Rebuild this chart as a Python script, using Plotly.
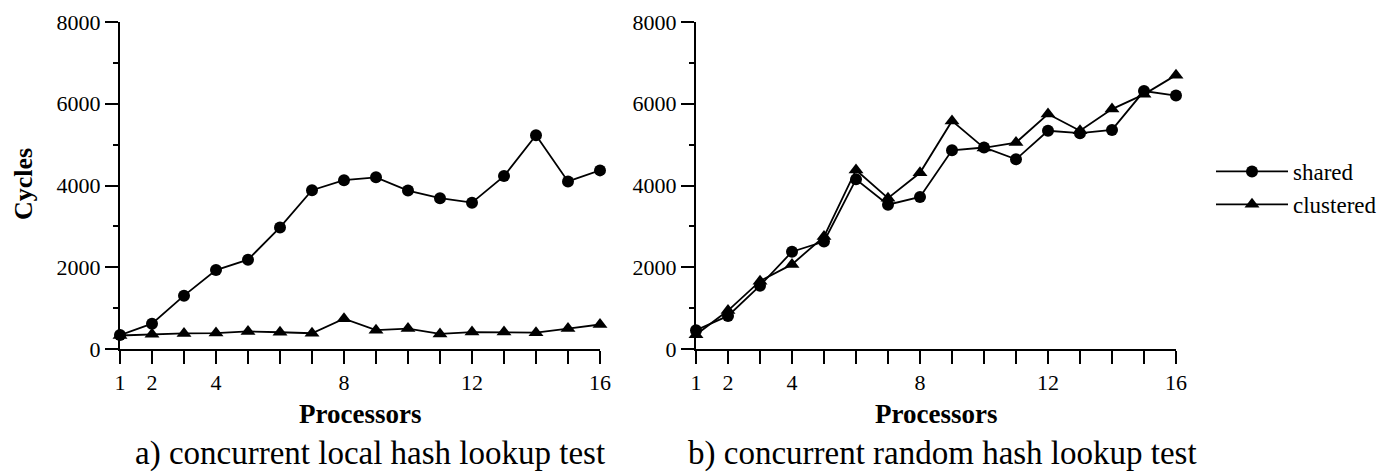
import plotly.graph_objects as go

processors = list(range(1, 17))

local_shared = [340, 620, 1305, 1930, 2185, 2975, 3885, 4130, 4200, 3875, 3690, 3580, 4230, 5230, 4100, 4370]
local_clustered = [330, 360, 380, 390, 430, 410, 385, 740, 460, 500, 370, 415, 415, 400, 500, 600]

random_shared = [460, 810, 1550, 2380, 2630, 4150, 3530, 3720, 4860, 4930, 4640, 5340, 5280, 5360, 6310, 6200]
random_clustered = [350, 940, 1660, 2070, 2750, 4380, 3690, 4310, 5580, 4920, 5050, 5750, 5340, 5870, 6230, 6700]

x_tickvals = list(range(1, 17))
x_ticktext = ["1", "2", "", "4", "", "", "", "8", "", "", "", "12", "", "", "", "16"]
y_tickvals = [0, 2000, 4000, 6000, 8000]

W, H = 1378, 473
FONT = "Liberation Serif"

def px_x(p):
    return p / W

def px_y(p):
    return 1 - p / H

fig = go.Figure()

line_style = dict(color="black", width=1.8)

fig.add_trace(go.Scatter(x=processors, y=local_shared, mode="lines+markers", name="shared",
                         line=line_style, marker=dict(symbol="circle", size=12, color="black"),
                         xaxis="x", yaxis="y", cliponaxis=False, legendgroup="shared"))
fig.add_trace(go.Scatter(x=processors, y=local_clustered, mode="lines+markers", name="clustered",
                         line=line_style, marker=dict(symbol="triangle-up", size=13, color="black"),
                         xaxis="x", yaxis="y", cliponaxis=False, legendgroup="clustered"))
fig.add_trace(go.Scatter(x=processors, y=random_shared, mode="lines+markers", name="shared",
                         line=line_style, marker=dict(symbol="circle", size=12, color="black"),
                         xaxis="x2", yaxis="y2", cliponaxis=False, showlegend=False, legendgroup="shared"))
fig.add_trace(go.Scatter(x=processors, y=random_clustered, mode="lines+markers", name="clustered",
                         line=line_style, marker=dict(symbol="triangle-up", size=13, color="black"),
                         xaxis="x2", yaxis="y2", cliponaxis=False, showlegend=False, legendgroup="clustered"))

xaxis_common = dict(range=[1, 16], tickvals=x_tickvals, ticktext=x_ticktext, ticks="outside",
                    ticklen=13, tickwidth=2, tickcolor="black", showline=True, linecolor="black",
                    linewidth=2, showgrid=False, zeroline=False, automargin=False,
                    tickfont=dict(family=FONT, size=22, color="black"))
yaxis_common = dict(range=[0, 8000], tickvals=y_tickvals, ticks="outside", ticklen=13, tickwidth=2,
                    tickcolor="black", showline=True, linecolor="black", linewidth=2,
                    showgrid=False, zeroline=False, automargin=False,
                    tickfont=dict(family=FONT, size=22, color="black"),
                    minor=dict(dtick=1000, ticks="outside", ticklen=5, tickwidth=2, tickcolor="black",
                               showgrid=False))

def ann(text, x, y, size, angle=0):
    return dict(text=text, x=px_x(x), y=px_y(y), xref="paper", yref="paper",
                xanchor="center", yanchor="middle", textangle=angle, showarrow=False,
                font=dict(family=FONT, size=size, color="black"))

ydom = [px_y(349), px_y(22)]
fig.update_layout(
    width=W, height=H,
    margin=dict(l=0, r=0, t=0, b=0, autoexpand=False),
    paper_bgcolor="white", plot_bgcolor="white",
    xaxis=dict(domain=[px_x(120), px_x(600)], anchor="y", **xaxis_common),
    yaxis=dict(domain=ydom, anchor="x", **yaxis_common),
    xaxis2=dict(domain=[px_x(696), px_x(1176)], anchor="y2", **xaxis_common),
    yaxis2=dict(domain=ydom, anchor="x2", **yaxis_common),
    legend=dict(x=px_x(1211), y=px_y(150), xanchor="left", yanchor="top",
                font=dict(family=FONT, size=23, color="black"), itemwidth=72,
                bgcolor="rgba(0,0,0,0)", tracegroupgap=0),
    showlegend=True,
    annotations=[
        ann("<b>Cycles</b>", 24, 184, 26, -90),
        ann("<b>Processors</b>", 360, 414, 27),
        ann("<b>Processors</b>", 936, 414, 27),
        ann("a) concurrent local hash lookup test", 370, 453, 33),
        ann("b) concurrent random hash lookup test", 942, 453, 33),
    ],
)

fig.write_html("out.html")
